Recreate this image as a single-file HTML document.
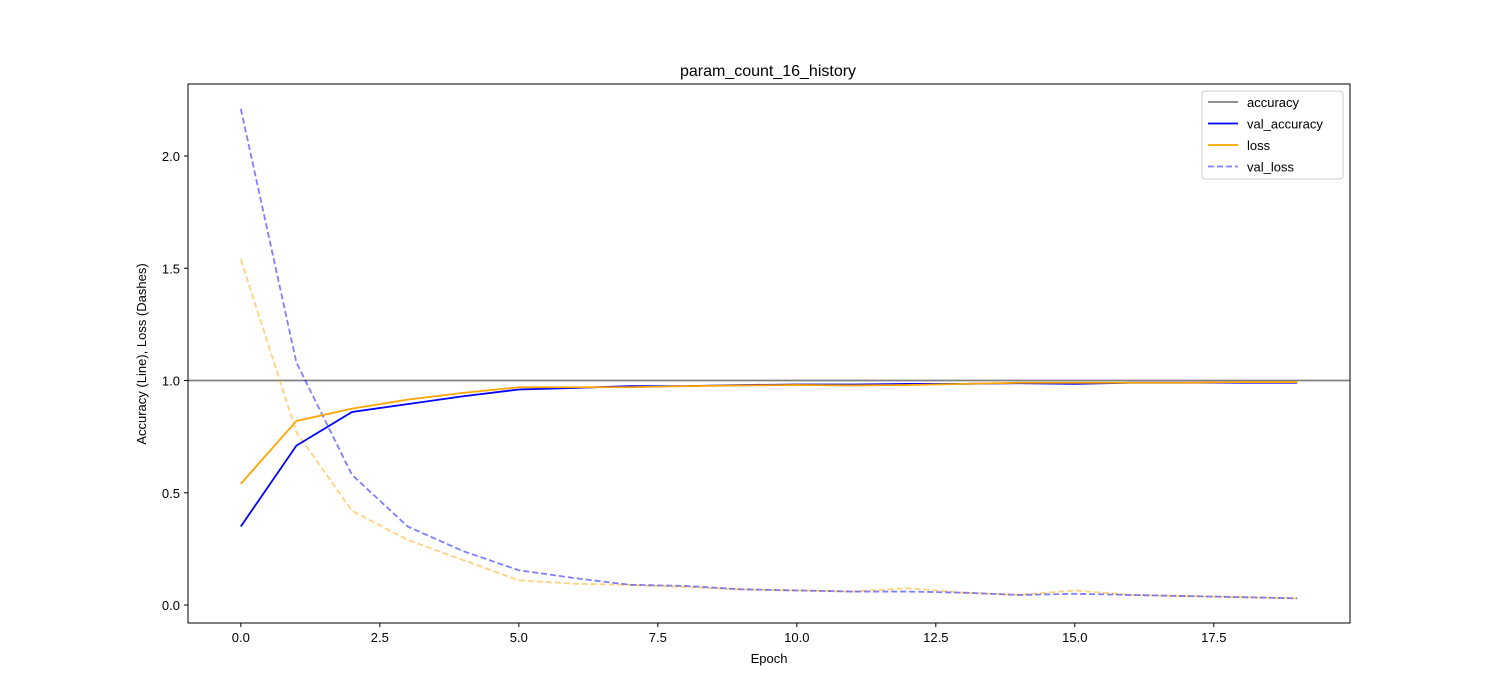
<!DOCTYPE html>
<html><head><meta charset="utf-8"><style>
body{margin:0;background:#fff;}
svg{display:block;font-family:"Liberation Sans","DejaVu Sans",sans-serif;}
</style></head><body>
<svg id="chart" width="1500" height="700"></svg>
<script>
const epochs=[0,1,2,3,4,5,6,7,8,9,10,11,12,13,14,15,16,17,18,19];
const accuracy=[1,1,1,1,1,1,1,1,1,1,1,1,1,1,1,1,1,1,1,1];
const valAccuracy=[0.35,0.71,0.86,0.895,0.93,0.96,0.967,0.975,0.975,0.98,0.982,0.982,0.985,0.985,0.988,0.985,0.99,0.99,0.99,0.99];
const loss=[0.54,0.82,0.875,0.915,0.945,0.97,0.97,0.97,0.975,0.978,0.98,0.978,0.98,0.985,0.99,0.99,0.99,0.99,0.993,0.993];
const lossDash=[1.54,0.77,0.42,0.29,0.2,0.11,0.095,0.09,0.08,0.07,0.065,0.06,0.075,0.055,0.045,0.065,0.045,0.04,0.035,0.03];
const valLoss=[2.21,1.08,0.58,0.35,0.24,0.155,0.12,0.09,0.085,0.07,0.065,0.06,0.06,0.055,0.045,0.05,0.045,0.04,0.035,0.03];
const xTicks=[0,2.5,5,7.5,10,12.5,15,17.5];
const xTickLabels=["0.0","2.5","5.0","7.5","10.0","12.5","15.0","17.5"];
const yTicks=[0,0.5,1,1.5,2];
const yTickLabels=["0.0","0.5","1.0","1.5","2.0"];

const L=188,R=1350,T=84,B=623;
const xMin=-0.95,xMax=19.95,yMin=-0.08,yMax=2.3207;
const X=v=>L+(v-xMin)/(xMax-xMin)*(R-L);
const Y=v=>B-(v-yMin)/(yMax-yMin)*(B-T);
const svg=document.getElementById('chart');
const NS='http://www.w3.org/2000/svg';
function mk(tag,attrs,parent){const e=document.createElementNS(NS,tag);for(const k in attrs)e.setAttribute(k,attrs[k]);(parent||svg).appendChild(e);return e;}

const title=mk('text',{x:768,y:76,'text-anchor':'middle','font-size':16});
title.textContent='param_count_16_history';



xTicks.forEach((t,i)=>{
  const g=mk('g',{});
  
  
  mk('line',{x1:X(t),x2:X(t),y1:B,y2:B+4,stroke:'#000'},g);
  const tx=mk('text',{x:X(t),y:B+19,'text-anchor':'middle','font-size':13},g);tx.textContent=xTickLabels[i];
});
yTicks.forEach((t,i)=>{
  const g=mk('g',{});
  
  
  mk('line',{x1:L-4,x2:L,y1:Y(t),y2:Y(t),stroke:'#000'},g);
  const tx=mk('text',{x:L-8,y:Y(t)+5,'text-anchor':'end','font-size':13},g);tx.textContent=yTickLabels[i];
});
const xl=mk('text',{x:769,y:663,'text-anchor':'middle','font-size':13});xl.textContent='Epoch';


const yl=mk('text',{x:0,y:0,'text-anchor':'middle','font-size':13,transform:'translate(146,354) rotate(-90)'});yl.textContent='Accuracy (Line), Loss (Dashes)';



function series(arr,color,dash,op,name){
  const p=mk('polyline',{points:arr.map((v,i)=>X(epochs[i])+','+Y(v)).join(' '),fill:'none',stroke:color,'stroke-width':1.8,'stroke-dasharray':dash||'none','stroke-opacity':op});
  
  
}
const ah=mk('line',{x1:L,x2:R,y1:Y(accuracy[0]),y2:Y(accuracy[0]),stroke:'#808080','stroke-width':1.8});


series(lossDash,'orange','6,3',0.5,'loss-dashed-line');
series(valLoss,'blue','6,3',0.5,'val-loss-line');
series(valAccuracy,'blue',null,1,'val-accuracy-line');
series(loss,'orange',null,1,'loss-line');

const fr=mk('rect',{x:L,y:T,width:R-L,height:B-T,fill:'none',stroke:'#000','stroke-width':1});



const lg=mk('g',{});


mk('rect',{x:1202,y:91,width:141,height:88,rx:3,fill:'#fff','fill-opacity':0.8,stroke:'#ccc'},lg);
const items=[['accuracy','#808080',null,1],['val_accuracy','blue',null,1],['loss','orange',null,1],['val_loss','blue','6,3',0.5]];
items.forEach((it,i)=>{
  const y=102+i*21.5;
  const g=mk('g',{},lg);
  
  
  mk('line',{x1:1208,x2:1238,y1:y,y2:y,stroke:it[1],'stroke-width':1.8,'stroke-dasharray':it[2]||'none','stroke-opacity':it[3]},g);
  const t=mk('text',{x:1247,y:y+5,'font-size':13},g);t.textContent=it[0];
});
</script>
</body></html>
